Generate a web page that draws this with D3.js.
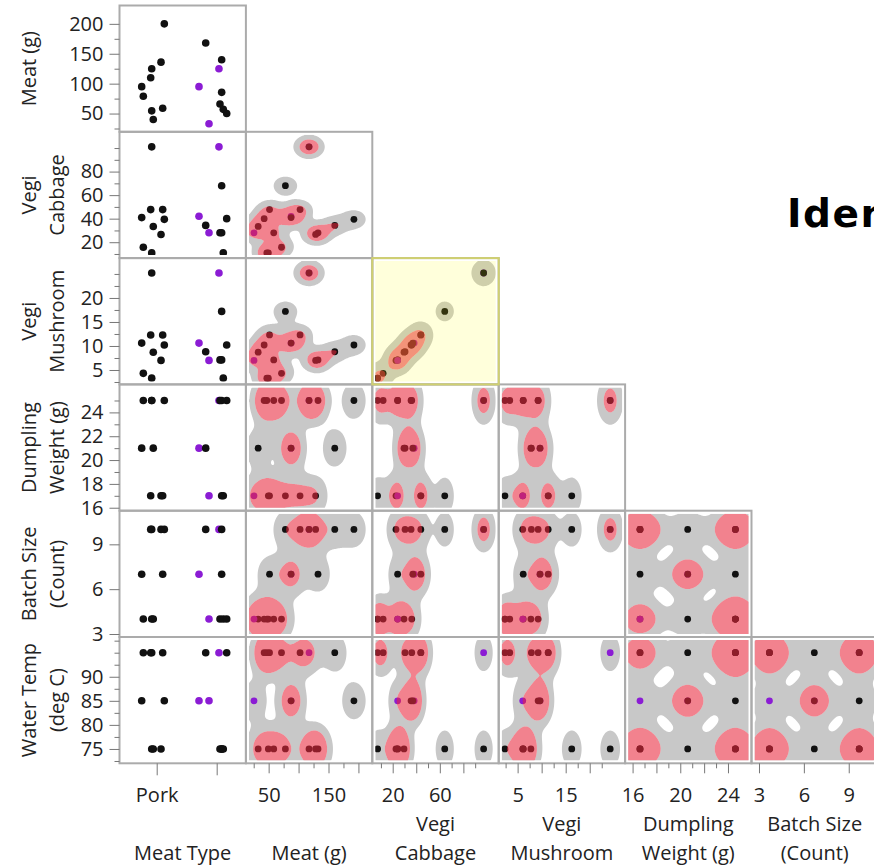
<!DOCTYPE html>
<html>
<head>
<meta charset="utf-8">
<script src="https://cdn.jsdelivr.net/npm/d3@7/dist/d3.min.js"></script>
<style>
  html, body { margin: 0; padding: 0; background: #fff; overflow: hidden; }
  svg { display: block; }
  .tick text { font-family: "Open Sans", sans-serif; font-size: 20px; fill: #222; }
  .tick line { stroke: #777; }
  .vtitle { font-family: "Open Sans", sans-serif; font-size: 20px; fill: #222; }
</style>
</head>
<body>
<svg id="chart" width="874" height="868"></svg>
<script>
// ---- one entry per dumpling batch ----
const meatTypes = ["Pork", "Beef"];
const meatTypeTickText = ["Pork", ""];
const meatType = [1, 1, 0, 1, 1, 0, 0, 0, 0, 1, 0, 1, 0, 1, 0, 1, 0, 1];
const meatTypeJitter = [0.113, -0.22, 0.202, -0.108, 0.158, 0.147, -0.008, -0.025, -0.175, 0.158, -0.148, 0.13, 0.175, 0.185, -0.008, 0.242, 0.018, -0.053];
const meatG = [125, 95, 200, 168, 140, 136, 125, 110, 95, 85.5, 79, 66, 59, 57, 54.5, 50, 40, 33];
const vegiCabbage = [101, 42, 39.4, 34.3, 28, 26.6, 101, 47.7, 40.9, 68, 15.7, 28, 47.7, 11, 10.9, 40, 33.4, 28];
const vegiMushroom = [25.2, 10.6, 10.2, 8.8, 7.1, 7, 25.2, 12.3, 10.6, 17.2, 4.3, 7.1, 12.3, 3.3, 3.3, 10.2, 8.7, 7];
const dumplingWeight = [25, 21, 25, 21, 25, 17, 25, 17, 21, 17, 25, 25, 17, 17, 25, 25, 21, 17];
const batchSize = [10, 7, 10, 10, 7, 10, 10, 10, 7, 10, 4, 4, 7, 4, 4, 4, 4, 4];
const waterTemp = [95, 85, 85, 95, 75, 75, 75, 95, 85, 75, 95, 75, 95, 75, 95, 95, 75, 85];
const selectedRow = [1, 1, 0, 0, 0, 0, 0, 0, 0, 0, 0, 0, 0, 0, 0, 0, 0, 1];

// ---- variables in matrix order ----
const titleLines = [["Meat Type"], ["Meat (g)"], ["Vegi", "Cabbage"], ["Vegi", "Mushroom"],
                    ["Dumpling", "Weight (g)"], ["Batch Size", "(Count)"], ["Water Temp", "(deg C)"]];
const majorTicks = [[0, 1], [50, 100, 150, 200], [20, 40, 60, 80], [5, 10, 15, 20],
                    [16, 18, 20, 22, 24], [3, 6, 9], [75, 80, 85, 90]];
const minorTicks = [[], [25, 75, 125, 175], [10, 30, 50, 70, 90, 100], [2.5, 7.5, 12.5, 17.5, 22.5, 25],
                    [17, 19, 21, 23, 25], [], [72.5, 77.5, 82.5, 87.5, 92.5, 95, 97.5]];
const bottomTickLabels = [[0], [50, 150], [20, 60], [5, 15], [16, 20, 24], [3, 6, 9], []];

const values = [
  meatType.map((t, i) => t + meatTypeJitter[i]),
  meatG, vegiCabbage, vegiMushroom, dumplingWeight, batchSize, waterTemp
];
const domains = [[-0.545, 1.562], [19.5, 230.7], [6.5, 113.8], [2.0, 28.3],
                 [15.75, 26.35], [2.8, 11.25], [72.02, 98.26]];

// ---- layout ----
const X0 = 119.5, Y0 = 5.5, CW = 126.4, CH = 126.3;
const AXIS_SHIFT = 4.5;      // bottom axis sits a little right of the frames
const INSET = 3;             // shading stays inside the frame
const BW = 0.32;             // kernel bandwidth factor on the robust spread
const OUTER_LEVEL = 0.42;    // outer contour, relative to one kernel's peak
const INNER_MASS = 0.56;     // inner contour encloses this share of the density
const HILITE = [2, 2];       // highlighted cell (row, col)

const svg = d3.select("#chart");
const n = meatG.length;

const xScale = (v, c) => d3.scaleLinear().domain(domains[v]).range([X0 + c * CW, X0 + (c + 1) * CW]);
const yScale = (v, r) => d3.scaleLinear().domain(domains[v]).range([Y0 + (r + 1) * CH, Y0 + r * CH]);

function spread(p) {
  const s = p.slice().sort(d3.ascending);
  const iqr = Math.abs(d3.quantileSorted(s, 0.75) - d3.quantileSorted(s, 0.25));
  return Math.min(d3.deviation(p), iqr);
}

// kernel density on a pixel grid; returns the two shaded regions as path strings
function densityPaths(px, py, x0, y0, x1, y1) {
  const res = 1;
  const nx = Math.ceil((x1 - x0) / res), ny = Math.ceil((y1 - y0) / res);
  const hx = spread(px) * BW, hy = spread(py) * BW;
  const ex = px.map(p => d3.range(nx).map(i => Math.exp(-0.5 * ((x0 + (i + 0.5) * res - p) / hx) ** 2)));
  const ey = py.map(p => d3.range(ny).map(j => Math.exp(-0.5 * ((y0 + (j + 0.5) * res - p) / hy) ** 2)));
  const grid = new Array(nx * ny).fill(0);
  for (let k = 0; k < px.length; k++) {
    const a = ex[k], b = ey[k];
    for (let j = 0; j < ny; j++) {
      const bj = b[j];
      if (bj < 1e-7) continue;
      const row = j * nx;
      for (let i = 0; i < nx; i++) grid[row + i] += a[i] * bj;
    }
  }
  const sorted = grid.slice().sort((p, q) => q - p);
  const total = d3.sum(sorted);
  let acc = 0, tInner = sorted[0];
  for (let i = 0; i < sorted.length; i++) {
    acc += sorted[i];
    if (acc >= INNER_MASS * total) { tInner = sorted[i]; break; }
  }
  const tOuter = Math.min(OUTER_LEVEL, tInner * 0.9);
  const cs = d3.contours().size([nx, ny]).smooth(true).thresholds([tOuter, tInner])(grid);
  const path = d3.geoPath(d3.geoTransform({
    point(x, y) { this.stream.point(x0 + x * res, y0 + y * res); }
  }));
  return [path(cs[0]), path(cs[1])];
}

const defs = svg.append("defs");
const cellsG = svg.append("g");
const framesG = svg.append("g");

for (let r = 0; r < 6; r++) {
  for (let c = 0; c <= r; c++) {
    const xv = c, yv = r + 1;
    const sx = xScale(xv, c), sy = yScale(yv, r);
    const left = X0 + c * CW, top = Y0 + r * CH;
    const id = `clip-${r}-${c}`;
    defs.append("clipPath").attr("id", id).append("rect")
      .attr("x", left + INSET).attr("y", top + INSET)
      .attr("width", CW - 2 * INSET).attr("height", CH - 2 * INSET);
    const g = cellsG.append("g").attr("clip-path", `url(#${id})`);
    const px = values[xv].map(sx), py = values[yv].map(sy);

    let inner = null;
    if (c > 0) {
      const [outer, innerD] = densityPaths(px, py, left + INSET, top + INSET, left + CW - INSET, top + CH - INSET);
      inner = innerD;
      g.append("path").attr("d", outer).attr("fill", "#c8c8c8");
      g.append("path").attr("d", inner).attr("fill", "#fff");
    }
    g.selectAll("circle").data(d3.range(n)).join("circle")
      .attr("cx", i => px[i]).attr("cy", i => py[i])
      .attr("r", c === 0 ? 3.8 : 3.4)
      .attr("fill", i => selectedRow[i] ? "#8b1cd4" : "#111");
    if (inner) {
      g.append("path").attr("d", inner).attr("fill", "#e8283c").attr("fill-opacity", 0.58);
    }
    if (r === HILITE[0] && c === HILITE[1]) {
      g.append("rect").attr("x", left).attr("y", top).attr("width", CW).attr("height", CH)
        .attr("fill", "#ffff00").attr("fill-opacity", 0.14);
    }
    framesG.append("rect").attr("x", left).attr("y", top).attr("width", CW).attr("height", CH)
      .attr("fill", "none").attr("stroke", "#ababab").attr("stroke-width", 2);
  }
}
// highlighted frame on top
framesG.append("rect")
  .attr("x", X0 + HILITE[1] * CW).attr("y", Y0 + HILITE[0] * CH).attr("width", CW).attr("height", CH)
  .attr("fill", "none").attr("stroke", "#d0d070").attr("stroke-width", 2);

// ---- left axes ----
const fmt = d3.format("~g");
for (let r = 0; r < 6; r++) {
  const v = r + 1, s = yScale(v, r);
  const top = Y0 + r * CH, bottom = top + CH;
  const inside = t => s(t) >= top + 2 && s(t) <= bottom;
  const ax = svg.append("g").attr("transform", `translate(${X0},0)`);
  ax.call(d3.axisLeft(s).tickValues(minorTicks[v].filter(inside)).tickSize(5).tickFormat(""));
  ax.call(g => g.select(".domain").remove());
  const ax2 = svg.append("g").attr("transform", `translate(${X0},0)`);
  ax2.call(d3.axisLeft(s).tickValues(majorTicks[v].filter(inside)).tickSize(10).tickPadding(6).tickFormat(fmt));
  ax2.call(g => g.select(".domain").remove());
}

// ---- bottom axes ----
const axisY = Y0 + 6 * CH;
for (let c = 0; c < 6; c++) {
  const v = c, s = xScale(v, c);
  const left = X0 + c * CW, right = left + CW;
  const inside = t => s(t) + AXIS_SHIFT <= right - 12 && s(t) + AXIS_SHIFT >= left + 2;
  const ax = svg.append("g").attr("transform", `translate(${AXIS_SHIFT},${axisY})`);
  ax.call(d3.axisBottom(s).tickValues(minorTicks[v].filter(inside)).tickSize(5).tickFormat(""));
  ax.call(g => g.select(".domain").remove());
  const labelled = bottomTickLabels[v];
  const tf = c === 0 ? (i => meatTypeTickText[i]) : (t => labelled.includes(t) ? fmt(t) : "");
  const ax2 = svg.append("g").attr("transform", `translate(${AXIS_SHIFT},${axisY})`);
  ax2.call(d3.axisBottom(s).tickValues(majorTicks[v].filter(inside)).tickSize(c === 0 ? 12 : 10)
    .tickPadding(c === 0 ? 12.5 : 14.5).tickFormat(tf));
  ax2.call(g => g.select(".domain").remove());
}

// ---- variable titles ----
for (let r = 0; r < 6; r++) {
  const lines = titleLines[r + 1];
  const cy = Y0 + (r + 0.5) * CH;
  lines.forEach((t, k) => {
    svg.append("text").attr("class", "vtitle")
      .attr("transform", `translate(${36 + 28 * k},${cy}) rotate(-90)`)
      .attr("text-anchor", "middle").text(t);
  });
}
for (let c = 0; c < 6; c++) {
  const lines = titleLines[c];
  const cx = X0 + (c + 0.5) * CW;
  const baseY = lines.length === 1 ? [860] : [831, 860];
  lines.forEach((t, k) => {
    svg.append("text").attr("class", "vtitle")
      .attr("x", cx).attr("y", baseY[k]).attr("text-anchor", "middle").text(t);
  });
}

// ---- report heading ----
svg.append("text").attr("x", 787).attr("y", 227)
  .attr("font-family", "DejaVu Sans, sans-serif").attr("font-weight", "bold")
  .attr("font-size", 39).attr("letter-spacing", 1.5).attr("fill", "#000")
  .text("Identifying Outliers");
</script>
</body>
</html>
